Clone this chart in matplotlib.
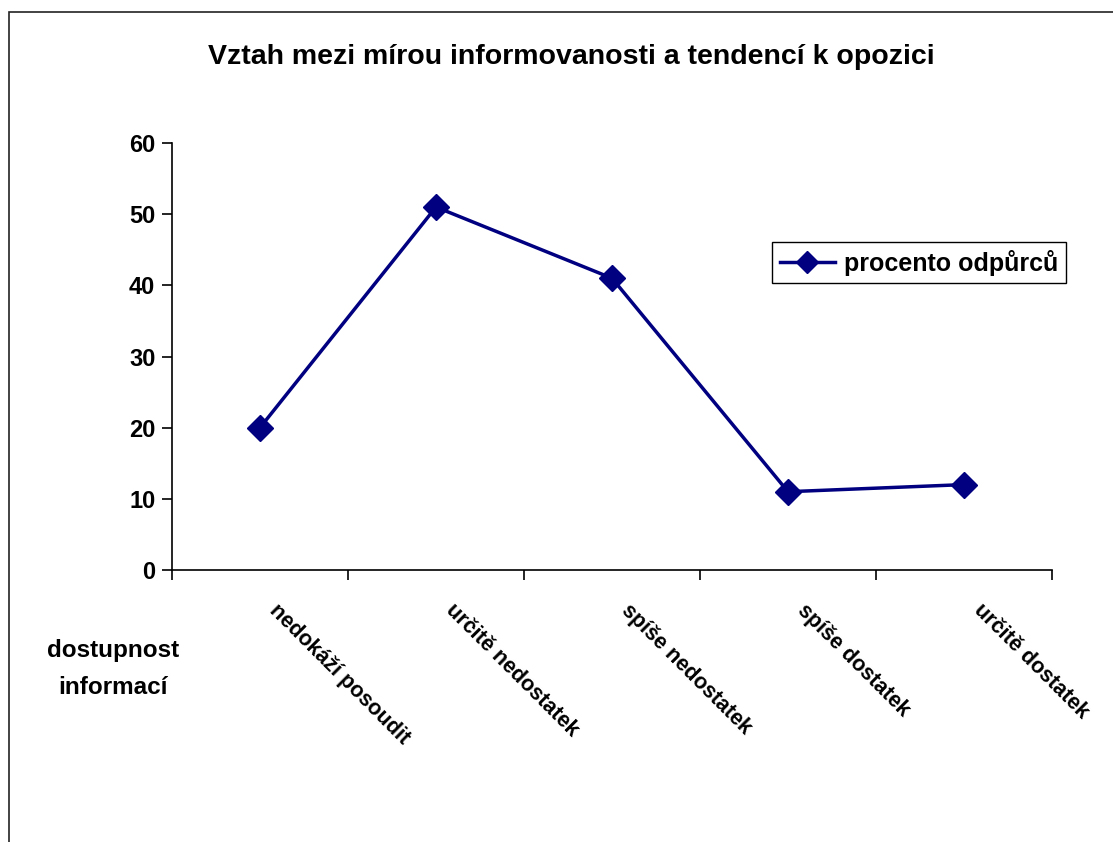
import numpy as np
import matplotlib
matplotlib.use("Agg")
import matplotlib.pyplot as plt
from matplotlib.patches import Rectangle

plt.rcParams['font.family'] = ['Liberation Sans', 'DejaVu Sans']
plt.rcParams['font.weight'] = 'bold'

# data
categories = ['nedokáží posoudit', 'určitě nedostatek', 'spíše nedostatek',
              'spíše dostatek', 'určitě dostatek']
values = [20, 51, 41, 11, 12]
series_name = 'procento odpůrců'
yticks = [0, 10, 20, 30, 40, 50, 60]

W, H = 1113, 842
fig = plt.figure(figsize=(W / 100, H / 100), dpi=100)

# outer chart frame (cut off at right and bottom)
fig.patches.append(Rectangle((9 / W, -0.1), 1.2, 1 - 12 / H + 0.1, transform=fig.transFigure,
                             fill=False, edgecolor='#222222', linewidth=1.2))

ax = fig.add_axes([172 / W, 1 - 570 / H, (1052 - 172) / W, (570 - 143) / H])
x = np.arange(len(categories)) + 0.5
line, = ax.plot(x, values, color='#000080', linewidth=2.5, marker='D', markersize=13.5,
                markerfacecolor='#000080', markeredgecolor='#000080', label=series_name,
                clip_on=False)

ax.set_xlim(0, len(categories))
ax.set_ylim(0, 60)
ax.set_yticks(yticks)
ax.set_yticklabels([str(t) for t in yticks], fontsize=17, fontweight='bold')
ax.set_xticks(np.arange(len(categories) + 1))
ax.set_xticklabels([])
ax.tick_params(axis='both', direction='out', length=7, width=1.2, color='black')
ax.tick_params(axis='y', pad=5)
for s in ['top', 'right']:
    ax.spines[s].set_visible(False)
for s in ['left', 'bottom']:
    ax.spines[s].set_linewidth(1.2)

for xi, lab in zip(x, categories):
    ax.annotate(lab, xy=(xi, 0), xycoords=('data', 'axes fraction'),
                xytext=(20, -30), textcoords='offset pixels',
                rotation=-45, rotation_mode='anchor', ha='left', va='top',
                fontsize=15.5, fontweight='bold')

fig.text(571 / W, 1 - 57 / H, 'Vztah mezi mírou informovanosti a tendencí k opozici',
         ha='center', va='center', fontsize=20.5, fontweight='bold')
fig.text(113 / W, 1 - 669 / H, 'dostupnost\ninformací', ha='center', va='center',
         fontsize=17.5, fontweight='bold', linespacing=1.75)

leg = fig.legend(handles=[line], loc='upper left', bbox_to_anchor=(772 / W, 1 - 242 / H),
                 bbox_transform=fig.transFigure, borderaxespad=0, fancybox=False,
                 edgecolor='black', framealpha=1, prop={'size': 18, 'weight': 'bold'},
                 handlelength=2.2, handletextpad=0.4, markerscale=0.8, borderpad=0.3)
leg.get_frame().set_linewidth(1.0)

fig.savefig('out.png', dpi=100)
